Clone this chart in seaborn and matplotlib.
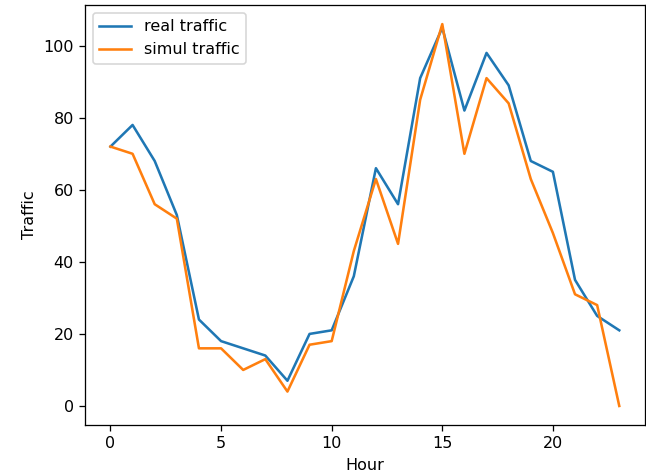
import matplotlib
matplotlib.use("Agg")
import matplotlib.pyplot as plt
import seaborn as sns
import pandas as pd

hours = list(range(24))
real_traffic = [72, 78, 68, 53, 24, 18, 16, 14, 7, 20, 21, 36,
                66, 56, 91, 105, 82, 98, 89, 68, 65, 35, 25, 21]
simul_traffic = [72, 70, 56, 52, 16, 16, 10, 13, 4, 17, 18, 43,
                 63, 45, 85, 106, 70, 91, 84, 63, 48, 31, 28, 0]
series_names = ["real traffic", "simul traffic"]

df = pd.DataFrame({
    "Hour": hours * 2,
    "Traffic": real_traffic + simul_traffic,
    "series": [series_names[0]] * 24 + [series_names[1]] * 24,
})

DPI = 115
fig, ax = plt.subplots(figsize=(646 / DPI, 476 / DPI), dpi=DPI)
fig.subplots_adjust(left=0.1316, right=0.998, top=0.9895, bottom=0.107)

sns.lineplot(data=df, x="Hour", y="Traffic", hue="series",
             palette=["#1f77b4", "#ff7f0e"], linewidth=1.6, ax=ax)
ax.legend(title=None, loc="upper left")
ax.set_xticks([0, 5, 10, 15, 20])

fig.savefig("out.png", dpi=DPI)
